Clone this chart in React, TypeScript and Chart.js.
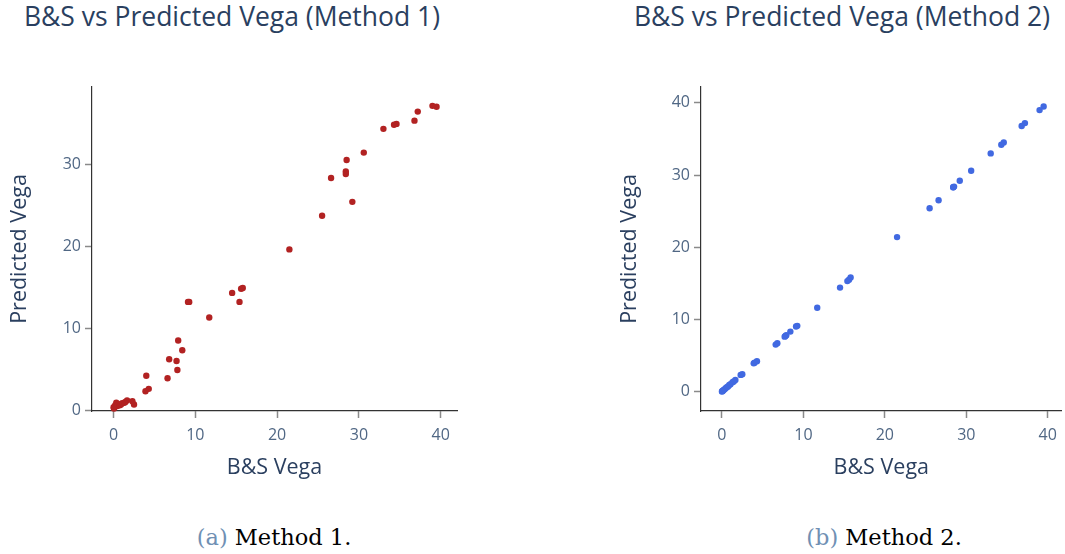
import React, { useEffect, useRef } from "react";
import { Chart, registerables } from "chart.js";

Chart.register(...registerables);

// B&S vega (shared x values) and predictions of the two methods
const bsVega = [
  39.5, 39.0, 37.2, 36.8, 34.6, 34.3, 33.0, 30.6, 29.2, 28.5, 28.4, 28.4, 26.6, 25.5, 21.5,
  15.8, 15.6, 15.4, 14.5, 11.7, 9.25, 9.1, 8.4, 7.9, 7.8, 7.7, 6.8, 6.6, 4.3, 4.0, 3.9,
  2.5, 2.3, 1.65, 1.45, 1.3, 1.05, 0.9, 0.75, 0.6, 0.45, 0.33, 0.2, 0.12, 0.05, 0.0,
];
const predMethod1 = [
  37.0, 37.1, 36.4, 35.3, 34.9, 34.8, 34.3, 31.4, 25.4, 30.5, 29.1, 28.8, 28.3, 23.7, 19.6,
  14.9, 14.8, 13.2, 14.3, 11.3, 13.2, 13.2, 7.3, 8.5, 4.9, 6.0, 6.2, 3.9, 2.6, 4.2, 2.3,
  0.7, 1.1, 1.2, 1.0, 0.9, 0.85, 0.7, 0.6, 0.73, 0.5, 0.9, 0.6, 0.4, 0.2, 0.35,
];
const predMethod2 = [
  39.5, 39.0, 37.2, 36.8, 34.5, 34.2, 33.0, 30.6, 29.2, 28.4, 28.3, 28.3, 26.5, 25.4, 21.4,
  15.8, 15.5, 15.3, 14.4, 11.6, 9.1, 9.0, 8.3, 7.8, 7.7, 7.6, 6.7, 6.5, 4.2, 4.0, 3.9,
  2.4, 2.3, 1.6, 1.4, 1.3, 1.0, 0.9, 0.7, 0.6, 0.45, 0.3, 0.2, 0.1, 0.05, 0.0,
];

const chartTitles = ["B&S vs Predicted Vega (Method 1)", "B&S vs Predicted Vega (Method 2)"];
const captionTags = ["(a)", "(b)"];
const captionTexts = ["Method 1.", "Method 2."];
const xAxisTitle = "B&S Vega";
const yAxisTitle = "Predicted Vega";
const tickStep = 10;

const FONT = "'Open Sans', sans-serif";
const TITLE_COLOR = "#2a3f5f";
const TICK_COLOR = "#506784";

type PanelSpec = {
  pred: number[];
  color: string;
  xMin: number;
  xMax: number;
  yMin: number;
  yMax: number;
  yScaleWidth: number;
  padRight: number;
  width: number;
  height: number;
};

function ScatterPanel({ spec }: { spec: PanelSpec }) {
  const ref = useRef<HTMLCanvasElement | null>(null);
  useEffect(() => {
    if (!ref.current) return;
    const points = bsVega.map((x, i) => ({ x, y: spec.pred[i] }));
    const chart = new Chart(ref.current, {
      type: "scatter",
      data: {
        datasets: [
          {
            data: points,
            backgroundColor: spec.color,
            borderWidth: 0,
            pointRadius: 3.2,
            pointHoverRadius: 3.2,
            clip: false,
          },
        ],
      },
      options: {
        animation: false,
        responsive: false,
        events: [],
        layout: { padding: { top: 27, right: spec.padRight, left: 0, bottom: 0 } },
        plugins: { legend: { display: false }, tooltip: { enabled: false }, title: { display: false } },
        scales: {
          x: {
            type: "linear",
            position: "bottom",
            min: spec.xMin,
            max: spec.xMax,
            afterFit: (scale: any) => {
              scale.height = 89;
            },
            ticks: {
              stepSize: tickStep,
              includeBounds: false,
              color: TICK_COLOR,
              font: { family: FONT, size: 16 },
              padding: 8,
              maxRotation: 0,
            },
            grid: { drawOnChartArea: false, drawTicks: true, tickLength: 7, tickColor: "#8a8a8a", tickWidth: 1.5 },
            border: { display: true, color: "#333", width: 1.2 },
            title: {
              display: true,
              text: xAxisTitle,
              color: TITLE_COLOR,
              font: { family: FONT, size: 21.5 },
              padding: { top: 0, bottom: 19 },
            },
          },
          y: {
            type: "linear",
            position: "left",
            min: spec.yMin,
            max: spec.yMax,
            afterFit: (scale: any) => {
              scale.width = spec.yScaleWidth;
            },
            ticks: {
              stepSize: tickStep,
              includeBounds: false,
              color: TICK_COLOR,
              font: { family: FONT, size: 16 },
              padding: 4,
            },
            grid: { drawOnChartArea: false, drawTicks: true, tickLength: 7, tickColor: "#8a8a8a", tickWidth: 1.5 },
            border: { display: true, color: "#333", width: 1.2 },
            title: {
              display: true,
              text: yAxisTitle,
              color: TITLE_COLOR,
              font: { family: FONT, size: 21.5 },
              padding: { top: 7, bottom: 0 },
            },
          },
        },
      },
    } as any);
    return () => chart.destroy();
  }, [spec]);
  return (
    <canvas
      ref={ref}
      width={spec.width}
      height={spec.height}
      style={{ width: spec.width, height: spec.height, display: "block" }}
    />
  );
}

const leftSpec: PanelSpec = {
  pred: predMethod1,
  color: "#b22222",
  xMin: -2.64,
  xMax: 42.0,
  yMin: -0.1,
  yMax: 39.4,
  yScaleWidth: 92,
  padRight: 63,
  width: 520,
  height: 440,
};
const rightSpec: PanelSpec = {
  pred: predMethod2,
  color: "#4169e1",
  xMin: -2.57,
  xMax: 41.7,
  yMin: -2.7,
  yMax: 42.2,
  yScaleWidth: 91,
  padRight: 2,
  width: 455,
  height: 440,
};

export default function App() {
  const titleStyle = (cx: number): React.CSSProperties => ({
    position: "absolute",
    left: cx - 300,
    width: 600,
    top: 1,
    textAlign: "center",
    fontFamily: FONT,
    fontSize: 26.5,
    lineHeight: "30px",
    color: TITLE_COLOR,
    whiteSpace: "nowrap",
  });
  const captionStyle = (cx: number): React.CSSProperties => ({
    position: "absolute",
    left: cx - 150,
    width: 300,
    top: 523,
    textAlign: "center",
    fontFamily: "'DejaVu Serif', serif",
    fontSize: 22.5,
    lineHeight: "28px",
    color: "#000",
    whiteSpace: "nowrap",
  });
  return (
    <div
      style={{
        position: "absolute",
        left: 0,
        top: 0,
        width: 1065,
        height: 554,
        background: "#fff",
        overflow: "hidden",
      }}
    >
      <div style={titleStyle(232)}>{chartTitles[0]}</div>
      <div style={titleStyle(842)}>{chartTitles[1]}</div>
      <div style={{ position: "absolute", left: 0, top: 60 }}>
        <ScatterPanel spec={leftSpec} />
      </div>
      <div style={{ position: "absolute", left: 610, top: 60 }}>
        <ScatterPanel spec={rightSpec} />
      </div>
      <div style={captionStyle(274)}>
        <span style={{ color: "#7090b4" }}>{captionTags[0]}</span> {captionTexts[0]}
      </div>
      <div style={captionStyle(884)}>
        <span style={{ color: "#7090b4" }}>{captionTags[1]}</span> {captionTexts[1]}
      </div>
    </div>
  );
}
